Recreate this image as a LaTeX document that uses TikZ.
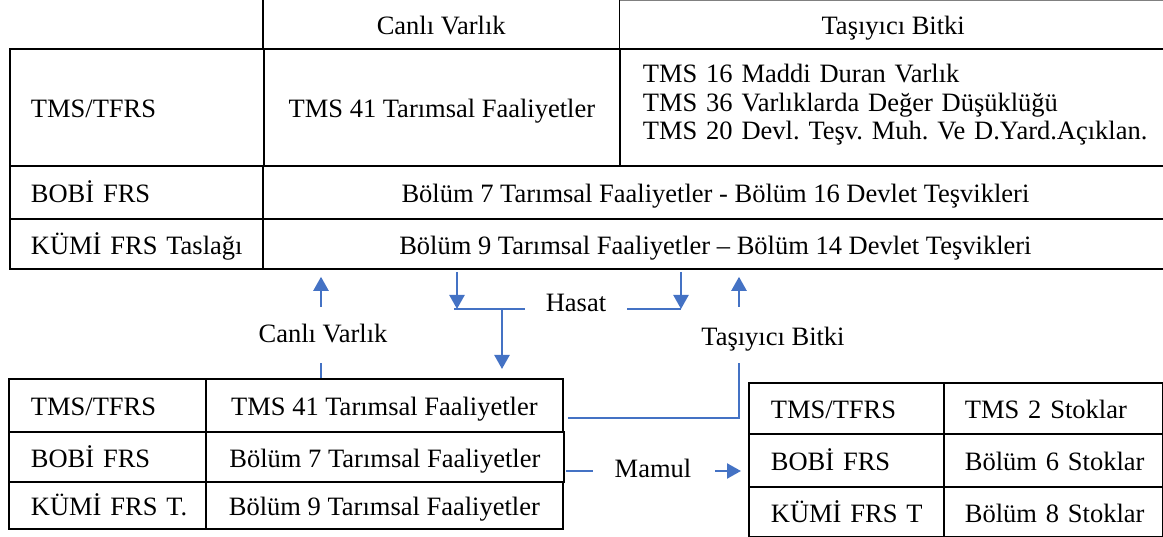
\documentclass[tikz,border=0pt]{standalone}
\usepackage{fontspec}
\setmainfont{Liberation Serif}
\usetikzlibrary{arrows.meta}
\definecolor{flowblue}{RGB}{68,114,196}
\newcommand\tabfont{\fontsize{26.5}{28.5}\selectfont\frenchspacing}
\begin{document}
\begin{tikzpicture}[x=1pt,y=-1pt,
  cell/.style={draw, line width=1.8pt, inner sep=0pt, anchor=north west, font=\tabfont},
  one/.style={text height=22pt, text depth=1.5pt},
  hdr/.style={inner sep=0pt, anchor=north west, font=\tabfont, one},
  border/.style={line width=1.8pt},
  toprule/.style={line width=1pt, draw=gray},
  lbl/.style={inner sep=0pt, font=\tabfont, one},
  flow/.style={line width=2.3pt, draw=flowblue},
  arr/.style={flow, -{Triangle[width=15pt,length=14pt]}}
]
\useasboundingbox (0,0) rectangle (1163,537);

% ---------- top table ----------
\node[hdr, minimum width=356pt, minimum height=48pt] (hcv) at (263,0) {Canlı Varlık};
\node[hdr, minimum width=548pt, minimum height=48pt] (htb) at (619,0) {Taşıyıcı Bitki};
\draw[toprule] ([yshift=-0.5pt]htb.north west) -- ([yshift=-0.5pt]htb.north east);
\draw[border] (hcv.north west) -- (hcv.south west);
\draw[border] (hcv.north east) -- (hcv.south east);

\node[cell, one, minimum width=254pt, minimum height=117pt, text width=212pt, align=left] (t1l) at (9,48) {\mbox{TMS/TFRS}};
\node[cell, one, minimum width=356pt, minimum height=117pt] (t1m) at (263,48) {TMS 41 Tarımsal Faaliyetler};
\node[cell, minimum width=548pt, minimum height=117pt, text width=502pt, align=left] (t1r) at (619,48)
  {\mbox{TMS 16 Maddi Duran Varlık}\\\mbox{TMS 36 Varlıklarda Değer Düşüklüğü}\\\mbox{TMS 20 Devl. Teşv. Muh. Ve D.Yard.Açıklan.}\rule[-11pt]{0pt}{1pt}};

\node[cell, one, minimum width=253pt, minimum height=53pt, text width=211pt, align=left] (t2l) at (9,165) {\mbox{BOBİ FRS}};
\node[cell, one, minimum width=905pt, minimum height=53pt] (t2r) at (262,165)
  {Bölüm 7 Tarımsal Faaliyetler - Bölüm 16 Devlet Teşvikleri};

\node[cell, one, minimum width=253pt, minimum height=50pt, text width=211pt, align=left] (t3l) at (9,218) {\mbox{KÜMİ FRS Taslağı}};
\node[cell, one, minimum width=905pt, minimum height=50pt] (t3r) at (262,218)
  {Bölüm 9 Tarımsal Faaliyetler -- Bölüm 14 Devlet Teşvikleri};

% ---------- bottom-left table ----------
\node[cell, one, minimum width=197pt, minimum height=53pt, text width=153pt, align=left] (b1l) at (8,378) {\mbox{TMS/TFRS}};
\node[cell, one, minimum width=357pt, minimum height=53pt] (b41) at (205,378) {TMS 41 Tarımsal Faaliyetler};
\node[cell, one, minimum width=197pt, minimum height=50pt, text width=153pt, align=left] (b2l) at (8,431) {\mbox{BOBİ FRS}};
\node[cell, one, minimum width=358pt, minimum height=50pt] (b7) at (205,431) {Bölüm 7 Tarımsal Faaliyetler};
\node[cell, one, minimum width=197pt, minimum height=47pt, text width=153pt, align=left] (b3l) at (8,481) {\mbox{KÜMİ FRS T.}};
\node[cell, one, minimum width=357pt, minimum height=47pt] (b9) at (205,481) {Bölüm 9 Tarımsal Faaliyetler};

% ---------- right table ----------
\node[cell, one, minimum width=195pt, minimum height=51pt, text width=151pt, align=left] (r1l) at (748,382) {\mbox{TMS/TFRS}};
\node[cell, one, minimum width=219pt, minimum height=51pt, text width=177pt, align=left] (r1r) at (943,382) {\mbox{TMS 2 Stoklar}};
\node[cell, one, minimum width=195pt, minimum height=53pt, text width=151pt, align=left] (r2l) at (748,433) {\mbox{BOBİ FRS}};
\node[cell, one, minimum width=219pt, minimum height=53pt, text width=177pt, align=left] (r2r) at (943,433) {\mbox{Bölüm 6 Stoklar}};
\node[cell, one, minimum width=195pt, minimum height=50pt, text width=151pt, align=left] (r3l) at (748,486) {\mbox{KÜMİ FRS T}};
\node[cell, one, minimum width=219pt, minimum height=50pt, text width=177pt, align=left] (r3r) at (943,486) {\mbox{Bölüm 8 Stoklar}};

% ---------- labels ----------
\node[lbl] (cvl) at (323,332.5) {Canlı Varlık};
\node[lbl] (has) at (576,301.5) {Hasat};
\node[lbl] (tbl) at (773,335) {Taşıyıcı Bitki};
\node[lbl] (mam) at (653,467) {Mamul};

% ---------- connector points ----------
\coordinate (cv1) at (321,363);
\coordinate (cv2) at (321,307);
\coordinate (hL) at (457,309);
\coordinate (hM) at (502,309);
\coordinate (hR) at (681,309);
\coordinate (hLa) at (454,309);
\coordinate (hA) at (525,309);
\coordinate (hB) at (627,309);
\coordinate (tbc) at (739,418);
\coordinate (tb1) at (739,363);
\coordinate (tb2) at (739,307);
\coordinate (m1) at (593,471);
\coordinate (m2) at (715,471);

% Canlı Varlık flow
\draw[flow] (b41.north -| cv1) -- (cv1);
\draw[arr, shorten >=7pt] (cv2) -- (cv2 |- t3r.south);

% Hasat flow
\draw[arr, shorten <=2pt] (hL |- t3r.south) -- (hL);
\draw[arr, shorten <=2pt] (hR |- t3r.south) -- (hR);
\draw[flow] (hLa) -- (hA);
\draw[flow] (hB) -- (hR);
\draw[arr, shorten >=9pt] (hM) -- (hM |- b41.north);

% Taşıyıcı Bitki flow
\draw[flow, shorten <=4pt] (b41.east |- tbc) -- (tbc) -- (tb1);
\draw[arr, shorten >=7pt] (tb2) -- (tb2 |- t3r.south);

% Mamul flow
\draw[flow, shorten <=1pt] (b7.east |- m1) -- (m1);
\draw[arr, shorten >=7pt] (m2) -- (m2 -| r2l.west);
\end{tikzpicture}
\end{document}
